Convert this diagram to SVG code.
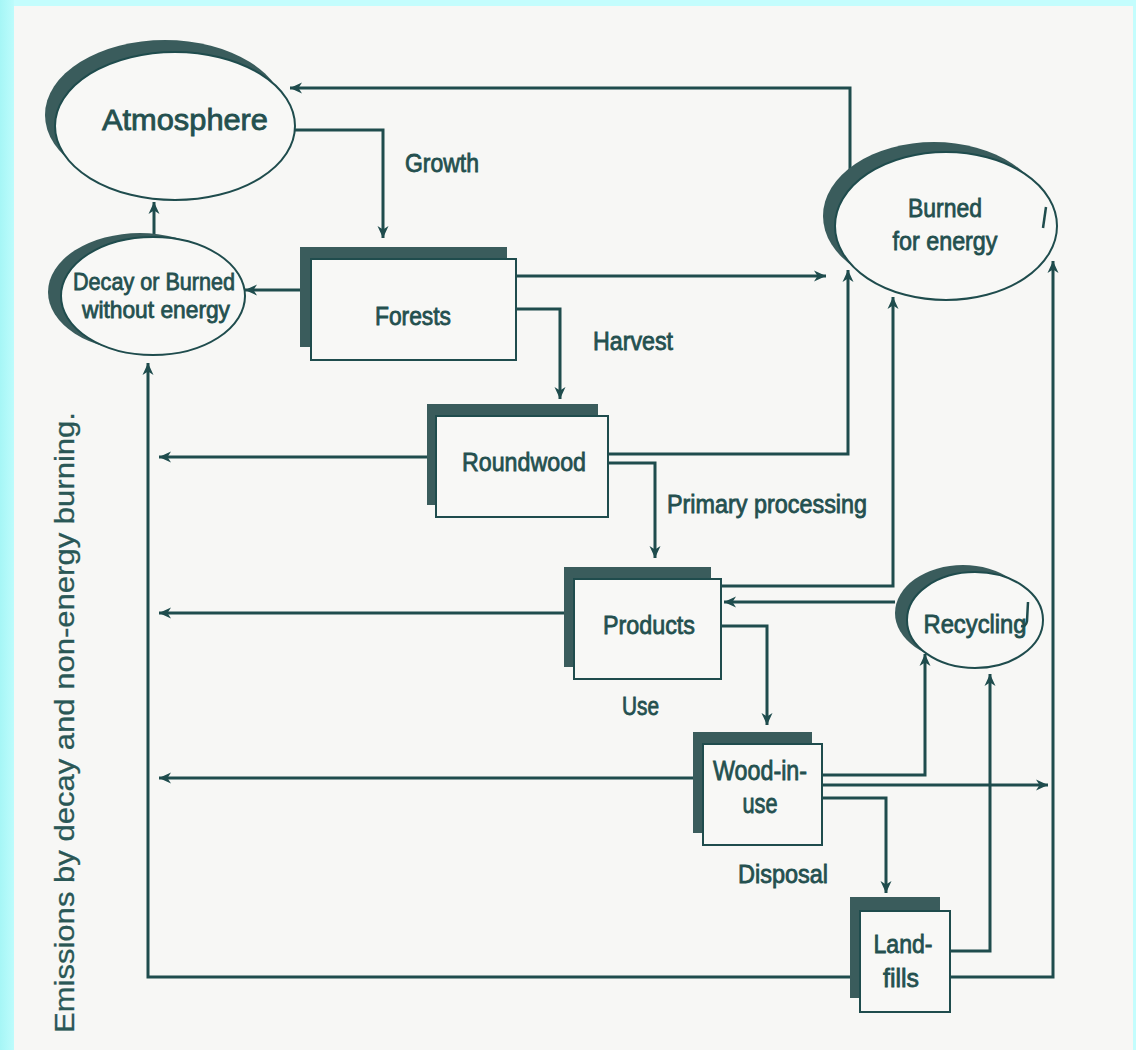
<svg xmlns="http://www.w3.org/2000/svg" width="1136" height="1050" viewBox="0 0 1136 1050">
<defs>
<linearGradient id="cyanL" x1="0" y1="0" x2="1" y2="0">
<stop offset="0" stop-color="#a6f6f6"/>
<stop offset="1" stop-color="#bdfcfc"/>
</linearGradient>
<marker id="ah" viewBox="-13 -6 15 12" refX="0" refY="0" markerWidth="15" markerHeight="12" markerUnits="userSpaceOnUse" orient="auto">
<path d="M-12,-5.5 L0,0 L-12,5.5 L-8.5,0 z" fill="#1f4c4d"/>
</marker>
<style>
.ln{fill:none;stroke:#1f4c4d;stroke-width:3}
.ar{marker-end:url(#ah)}
.sh{fill:#3a5c5c}
.bx{fill:#f8f8f6;stroke:#1f4c4d;stroke-width:2}
.el{fill:#f8f8f6;stroke:#1f4c4d;stroke-width:2}
.t{font-family:"Liberation Sans",Arial,sans-serif;fill:#24504f;stroke:#24504f;stroke-width:0.8;text-anchor:middle}
.lb{font-family:"Liberation Sans",Arial,sans-serif;fill:#24504f;stroke:#24504f;stroke-width:0.8}
.vt{font-family:"Liberation Sans",Arial,sans-serif;fill:#2a5756;stroke:#2a5756;stroke-width:0.3}
.mk{fill:none;stroke:#1f4c4d;stroke-width:2.5}
</style>
</defs>
<rect x="0" y="0" width="1136" height="1050" fill="#f7f7f5"/>
<rect x="0" y="0" width="1136" height="6" fill="#c4fdfd"/>
<rect x="0" y="0" width="14" height="1050" fill="url(#cyanL)"/>
<rect x="1133" y="0" width="3" height="1050" fill="#c4fdfd"/>

<g id="connectors">
<path class="ln ar" d="M295,130 H383 V238"/>
<path class="ln ar" d="M850,172 V88 H290"/>
<path class="ln ar" d="M300,290 H245"/>
<path class="ln ar" d="M516,276 H826"/>
<path class="ln ar" d="M516,309 H560 V399"/>
<path class="ln ar" d="M154,237 V202"/>
<path class="ln ar" d="M427,457 H159"/>
<path class="ln ar" d="M608,454 H848 V270"/>
<path class="ln ar" d="M608,463 H655 V558"/>
<path class="ln ar" d="M564,613 H159"/>
<path class="ln ar" d="M721,586 H893 V297"/>
<path class="ln ar" d="M895,602 H724"/>
<path class="ln ar" d="M721,626 H767 V725"/>
<path class="ln ar" d="M693,778 H159"/>
<path class="ln ar" d="M821,775 H925 V654"/>
<path class="ln ar" d="M821,785 H1048"/>
<path class="ln ar" d="M821,798 H886 V893"/>
<path class="ln ar" d="M950,951 H990 V674"/>
<path class="ln ar" d="M950,977 H1053 V261"/>
<path class="ln ar" d="M850,977 H148 V363"/>
</g>

<g id="atmosphere">
<ellipse class="sh" cx="165" cy="115" rx="120" ry="75"/>
<ellipse class="el" cx="175" cy="126" rx="120" ry="74"/>
<text class="t" x="185" y="130" font-size="29" textLength="166" lengthAdjust="spacingAndGlyphs">Atmosphere</text>
</g>

<g id="decay">
<ellipse class="sh" cx="140" cy="292" rx="92" ry="59"/>
<ellipse class="el" cx="153" cy="296" rx="92" ry="59" stroke-width="1.2"/>
<text class="t" x="154" y="290" font-size="24" textLength="162" lengthAdjust="spacingAndGlyphs">Decay or Burned</text>
<text class="t" x="156" y="318" font-size="24" textLength="148" lengthAdjust="spacingAndGlyphs">without energy</text>
</g>

<g id="burned">
<ellipse class="sh" cx="934" cy="216" rx="111" ry="74"/>
<ellipse class="el" cx="946" cy="226" rx="111" ry="74"/>
<text class="t" x="945" y="217" font-size="26" textLength="74" lengthAdjust="spacingAndGlyphs">Burned</text>
<text class="t" x="945" y="250" font-size="26" textLength="105" lengthAdjust="spacingAndGlyphs">for energy</text>
<path class="mk" d="M1046,207 L1043,228"/>
</g>

<g id="forests">
<rect class="sh" x="300" y="247" width="207" height="100"/>
<rect class="bx" x="311" y="259" width="205" height="101"/>
<text class="t" x="413" y="325" font-size="25" textLength="76" lengthAdjust="spacingAndGlyphs">Forests</text>
</g>

<g id="roundwood">
<rect class="sh" x="427" y="404" width="171" height="101"/>
<rect class="bx" x="436" y="416" width="172" height="101"/>
<text class="t" x="524" y="471" font-size="26" textLength="124" lengthAdjust="spacingAndGlyphs">Roundwood</text>
</g>

<g id="products">
<rect class="sh" x="564" y="567" width="147" height="100"/>
<rect class="bx" x="574" y="579" width="147" height="100"/>
<text class="t" x="649" y="634" font-size="26" textLength="92" lengthAdjust="spacingAndGlyphs">Products</text>
</g>

<g id="recycling">
<ellipse class="sh" cx="963" cy="613" rx="68" ry="48"/>
<ellipse class="el" cx="975" cy="620" rx="68" ry="48" stroke-width="2.5"/>
<text class="t" x="975" y="633" font-size="26" textLength="103" lengthAdjust="spacingAndGlyphs">Recycling</text>
<path class="mk" d="M1028,602 L1027,621 Q1026,627 1021,626"/>
</g>

<g id="wood-in-use">
<rect class="sh" x="693" y="732" width="119" height="101"/>
<rect class="bx" x="703" y="744" width="119" height="101"/>
<text class="t" x="760" y="780" font-size="27" textLength="94" lengthAdjust="spacingAndGlyphs">Wood-in-</text>
<text class="t" x="760" y="813" font-size="27" textLength="35" lengthAdjust="spacingAndGlyphs">use</text>
</g>

<g id="landfills">
<rect class="sh" x="850" y="897" width="90" height="101"/>
<rect class="bx" x="860" y="911" width="90" height="101"/>
<text class="t" x="903" y="953" font-size="26" textLength="59" lengthAdjust="spacingAndGlyphs">Land-</text>
<text class="t" x="901" y="987" font-size="26" textLength="36" lengthAdjust="spacingAndGlyphs">fills</text>
</g>

<g id="labels">
<text class="lb" x="405" y="172" font-size="25" textLength="74" lengthAdjust="spacingAndGlyphs">Growth</text>
<text class="lb" x="593" y="350" font-size="25" textLength="80" lengthAdjust="spacingAndGlyphs">Harvest</text>
<text class="lb" x="667" y="513" font-size="25" textLength="200" lengthAdjust="spacingAndGlyphs">Primary processing</text>
<text class="lb" x="622" y="715" font-size="25" textLength="37" lengthAdjust="spacingAndGlyphs">Use</text>
<text class="lb" x="738" y="883" font-size="25" textLength="90" lengthAdjust="spacingAndGlyphs">Disposal</text>
<text class="vt" transform="translate(74,1033) rotate(-90)" x="0" y="0" font-size="27" textLength="621" lengthAdjust="spacingAndGlyphs">Emissions by decay and non-energy burning.</text>
</g>
</svg>
